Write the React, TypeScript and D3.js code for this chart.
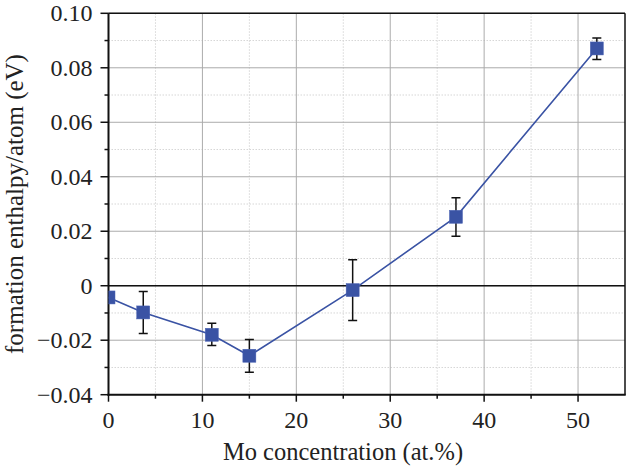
import React from "react";
import * as d3 from "d3";

const moConcentration = [0, 3.7, 11, 15, 26, 37, 52];
const enthalpy = [-0.0043, -0.0098, -0.018, -0.0257, -0.0016, 0.0253, 0.0871];
const errLow = [null, -0.0175, -0.0219, -0.0318, -0.0128, 0.0182, 0.083];
const errHigh = [null, -0.0021, -0.0138, -0.0197, 0.0095, 0.0323, 0.0909];
const xTicks = [0, 10, 20, 30, 40, 50];
const xMinor = [5, 15, 25, 35, 45];
const yTicks = [-0.04, -0.02, 0, 0.02, 0.04, 0.06, 0.08, 0.1];
const yMinor = [-0.03, -0.01, 0.01, 0.03, 0.05, 0.07, 0.09];
const yTickLabels = ["\u22120.04", "\u22120.02", "0", "0.02", "0.04", "0.06", "0.08", "0.10"];

const W = 627, H = 466;
const M = { left: 108.5, right: 625, top: 13.3, bottom: 394.7 };
const FONT = "Liberation Serif";
const BLUE = "#3a53a4";
const txt = { fontFamily: FONT, fontSize: "24px" } as React.CSSProperties;
const xTitleStyle = { fontFamily: FONT, fontSize: "24.5px" } as React.CSSProperties;
const yTitleStyle = { fontFamily: FONT, fontSize: "25px" } as React.CSSProperties;

export default function App() {
  const x = d3.scaleLinear().domain([0, 55]).range([M.left, M.right]);
  const y = d3.scaleLinear().domain([-0.04, 0.1]).range([M.bottom, M.top]);
  const line = d3.line<number>().x((d, i) => x(moConcentration[i])).y((d) => y(d));
  const ms = 13;
  return (
    <div style={{ position: "fixed", left: 0, top: 0 }}>
      <svg width={W} height={H} style={{ display: "block", background: "#fff" }}>
        <defs>
          <clipPath id="plot">
            <rect x={M.left} y={M.top} width={M.right - M.left} height={M.bottom - M.top} />
          </clipPath>
        </defs>
        {xMinor.map((v) => (
          <line key={"xm" + v} x1={x(v)} x2={x(v)} y1={M.top} y2={M.bottom} stroke="#d6d6d6" strokeWidth={1} strokeDasharray="1.5,1.5" />
        ))}
        {yMinor.map((v) => (
          <line key={"ym" + v} x1={M.left} x2={M.right} y1={y(v)} y2={y(v)} stroke="#d6d6d6" strokeWidth={1} strokeDasharray="1.5,1.5" />
        ))}
        {xTicks.map((v) => (
          <line key={"xg" + v} x1={x(v)} x2={x(v)} y1={M.top} y2={M.bottom} stroke="#ababab" strokeWidth={1} />
        ))}
        {yTicks.map((v) => (
          <line key={"yg" + v} x1={M.left} x2={M.right} y1={y(v)} y2={y(v)} stroke="#ababab" strokeWidth={1} />
        ))}
        <line x1={M.left} x2={M.right} y1={y(0)} y2={y(0)} stroke="#111" strokeWidth={1.3} />
        <line x1={M.left} x2={M.right} y1={M.top} y2={M.top} stroke="#111" strokeWidth={1.5} />
        <line x1={M.right} x2={M.right} y1={M.top} y2={M.bottom} stroke="#111" strokeWidth={1.5} />
        <line x1={M.left} x2={M.left} y1={M.top} y2={M.bottom + 1} stroke="#111" strokeWidth={2} />
        <line x1={M.left - 1} x2={M.right + 0.75} y1={M.bottom} y2={M.bottom} stroke="#111" strokeWidth={2} />
        {xTicks.map((v) => (
          <line key={"xt" + v} x1={x(v)} x2={x(v)} y1={M.bottom} y2={M.bottom + 7} stroke="#111" strokeWidth={1.5} />
        ))}
        {xMinor.map((v) => (
          <line key={"xmt" + v} x1={x(v)} x2={x(v)} y1={M.bottom} y2={M.bottom + 4} stroke="#111" strokeWidth={1.5} />
        ))}
        {yTicks.map((v) => (
          <line key={"yt" + v} x1={M.left - 8} x2={M.left} y1={y(v)} y2={y(v)} stroke="#111" strokeWidth={1.5} />
        ))}
        {yMinor.map((v) => (
          <line key={"ymt" + v} x1={M.left - 4} x2={M.left} y1={y(v)} y2={y(v)} stroke="#111" strokeWidth={1.5} />
        ))}
        {xTicks.map((v) => (
          <text key={"xl" + v} x={x(v)} y={428} textAnchor="middle" style={txt} fill="#222">
            {v}
          </text>
        ))}
        {yTicks.map((v, i) => (
          <text key={"yl" + v} x={M.left - 16} y={y(v)} dy="0.34em" textAnchor="end" style={txt} fill="#222">
            {yTickLabels[i]}
          </text>
        ))}
        <text x={343} y={460} textAnchor="middle" style={xTitleStyle} fill="#222">
          Mo concentration (at.%)
        </text>
        <text transform={`translate(23,${(M.top + M.bottom) / 2}) rotate(-90)`} textAnchor="middle" style={yTitleStyle} fill="#222">
          formation enthalpy/atom (eV)
        </text>
        <g clipPath="url(#plot)">
          <path d={line(enthalpy) || ""} fill="none" stroke={BLUE} strokeWidth={1.6} />
          {moConcentration.map((c, i) =>
            errLow[i] === null ? null : (
              <g key={"e" + i} stroke="#111" strokeWidth={1.5}>
                <line x1={x(c)} x2={x(c)} y1={y(errLow[i] as number)} y2={y(errHigh[i] as number)} />
                <line x1={x(c) - 4.5} x2={x(c) + 4.5} y1={y(errLow[i] as number)} y2={y(errLow[i] as number)} />
                <line x1={x(c) - 4.5} x2={x(c) + 4.5} y1={y(errHigh[i] as number)} y2={y(errHigh[i] as number)} />
              </g>
            )
          )}
          {moConcentration.map((c, i) => (
            <rect key={"m" + i} x={x(c) - ms / 2} y={y(enthalpy[i]) - ms / 2} width={ms} height={ms} fill={BLUE} stroke="#4a63b4" strokeWidth={0.5} />
          ))}
        </g>
      </svg>
    </div>
  );
}
